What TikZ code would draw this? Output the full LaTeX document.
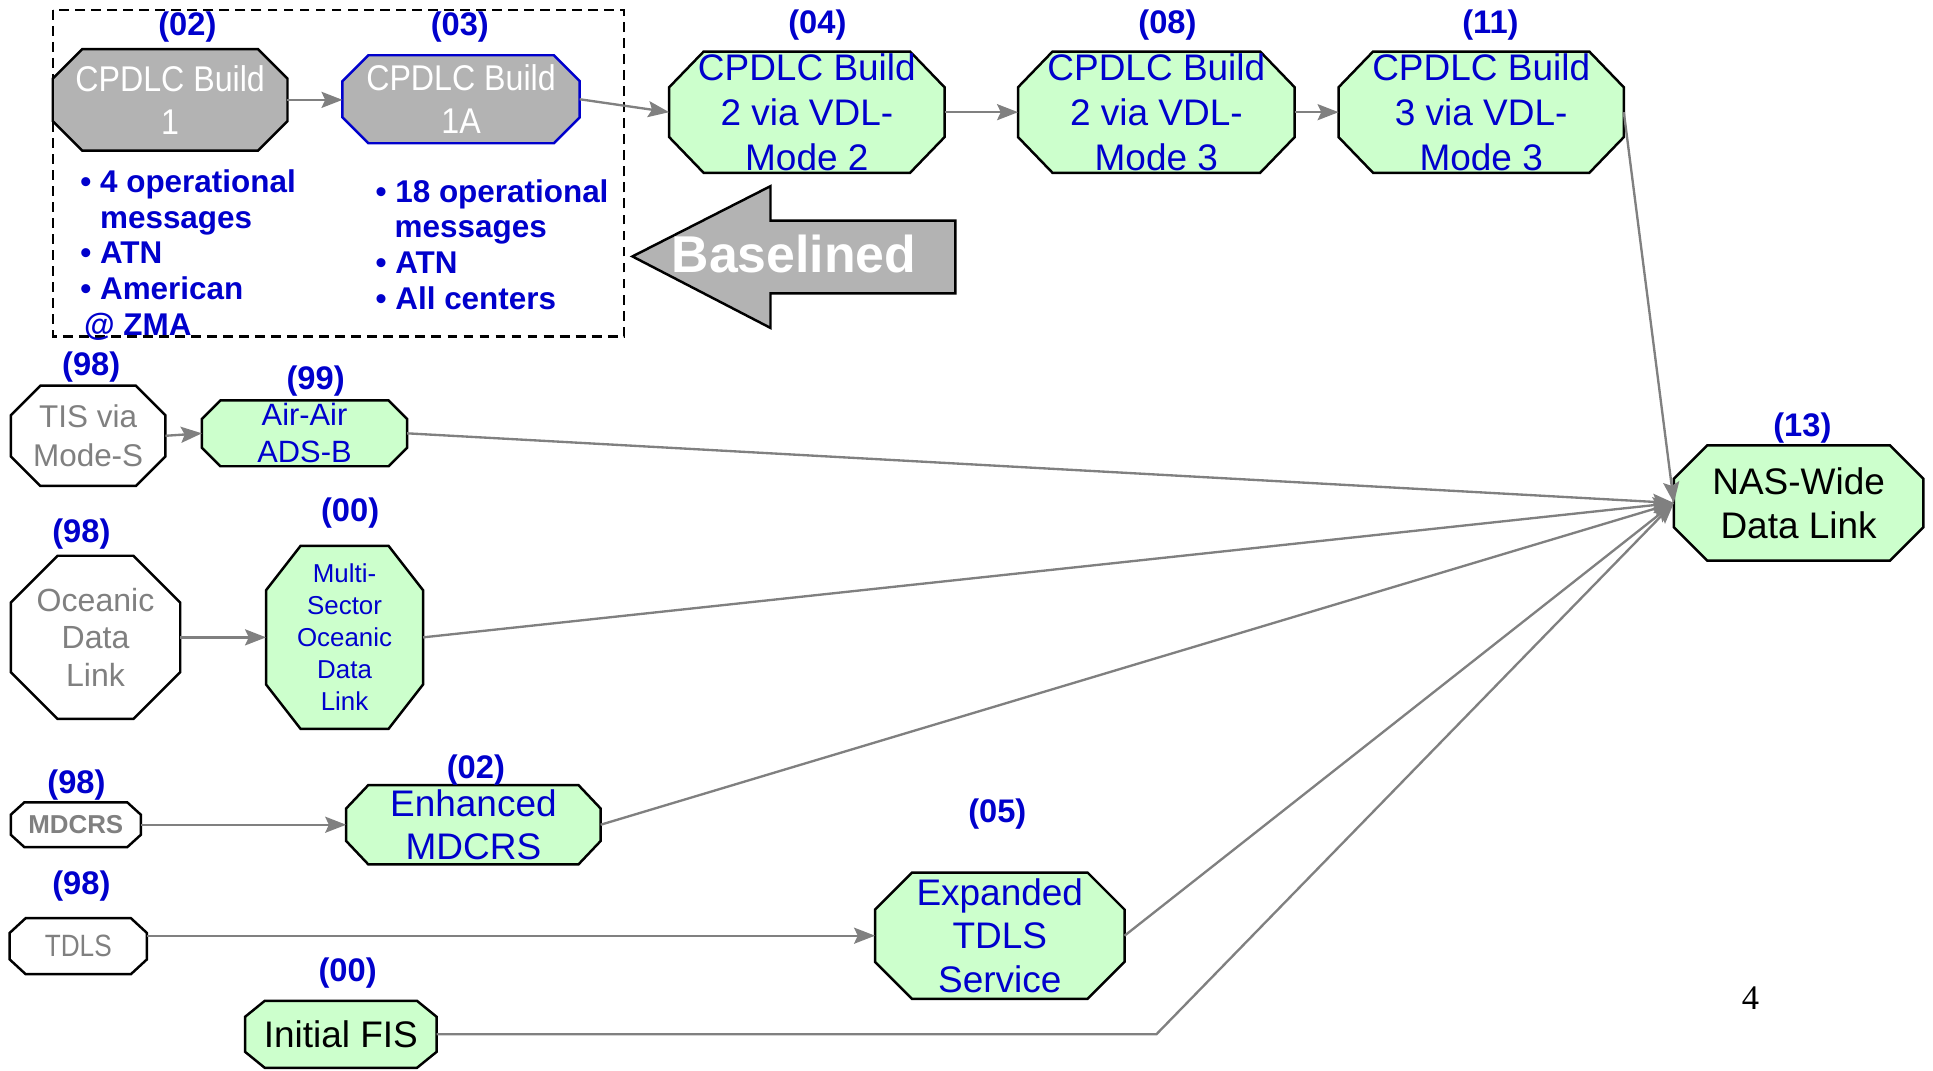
\documentclass[tikz,border=0pt]{standalone}
\usepackage{fontspec}
\setmainfont{Liberation Sans}
\newfontfamily\narrowfont[FakeStretch=0.9]{Liberation Sans}
\newfontfamily\tdlsfont[FakeStretch=0.85]{Liberation Sans}
\newfontfamily\pagefont{Liberation Serif}
\usetikzlibrary{calc,backgrounds,arrows.meta}
\definecolor{nodegreen}{HTML}{CCFFCC}
\definecolor{nodegray}{HTML}{B3B3B3}
\definecolor{txtblue}{HTML}{0000CC}
\definecolor{txtgray}{HTML}{808080}
\definecolor{linegray}{HTML}{808080}
\newcommand\myoct[4]{\draw[#4] ($(#1.north west)+(#2,0pt)$) -- ($(#1.north east)+(-#2,0pt)$) -- ($(#1.north east)+(0pt,-#3)$) -- ($(#1.south east)+(0pt,#3)$) -- ($(#1.south east)+(-#2,0pt)$) -- ($(#1.south west)+(#2,0pt)$) -- ($(#1.south west)+(0pt,#3)$) -- ($(#1.north west)+(0pt,-#3)$) -- cycle;}
\tikzset{
  oct/.style={inner sep=0pt, align=center},
  greenfill/.style={fill=nodegreen, draw=black, line width=2pt},
  grayfill/.style={fill=nodegray, draw=black, line width=2pt},
  whitefill/.style={fill=white, draw=black, line width=2pt},
  lbl/.style={font=\bfseries\fontsize{26.5}{30}\selectfont, text=txtblue, inner sep=0pt},
  bul/.style={font=\bfseries\fontsize{25.5}{29}\selectfont, text=txtblue, inner sep=0pt, anchor=base west},
  conn/.style={draw=linegray, line width=1.9pt, -{Stealth[length=17pt,width=13pt,inset=3pt]}},
  bigtxt/.style={font=\fontsize{30}{36.5}\selectfont, text=txtblue},
}
\begin{document}
\begin{tikzpicture}[x=1pt,y=-1pt]
\useasboundingbox (0,0) rectangle (1568,868);
% ---- nodes (text) ----
\node[oct, minimum width=190pt, minimum height=82pt, text=white, font=\narrowfont\fontsize{29}{35}\selectfont] (b1) at (138,81) {CPDLC Build\\1};
\node[oct, minimum width=192pt, minimum height=71pt, text=white, font=\narrowfont\fontsize{29}{35}\selectfont] (b1a) at (374,80.5) {CPDLC Build\\1A};
\node[oct, bigtxt, minimum width=223pt, minimum height=98pt] (b2m2) at (654.5,91) {CPDLC Build\\2 via VDL-\\Mode 2};
\node[oct, bigtxt, minimum width=224pt, minimum height=98pt] (b2m3) at (938,91) {CPDLC Build\\2 via VDL-\\Mode 3};
\node[oct, bigtxt, minimum width=231pt, minimum height=98pt] (b3m3) at (1201.5,91) {CPDLC Build\\3 via VDL-\\Mode 3};
\node[oct, minimum width=202pt, minimum height=93pt, font=\fontsize{30}{35.5}\selectfont] (nas) at (1459,408) {NAS-Wide\\Data Link};
\node[oct, minimum width=125pt, minimum height=81pt, text=txtgray, font=\fontsize{25.5}{31}\selectfont] (tis) at (71.5,353.5) {TIS via\\Mode-S};
\node[oct, minimum width=166pt, minimum height=53pt, text=txtblue, font=\fontsize{25}{30}\selectfont] (air) at (247,351.5) {Air-Air\\ADS-B};
\node[oct, minimum width=137pt, minimum height=132pt, text=txtgray, font=\fontsize{26}{30.5}\selectfont] (ocean) at (77.5,517) {Oceanic\\Data\\Link};
\node[oct, minimum width=127pt, minimum height=148pt, text=txtblue, font=\fontsize{21}{26}\selectfont] (multi) at (279.5,517) {Multi-\\Sector\\Oceanic\\Data\\Link};
\node[oct, minimum width=105pt, minimum height=36pt, text=txtgray, font=\bfseries\fontsize{21}{25}\selectfont] (mdcrs) at (61.5,669) {MDCRS};
\node[oct, minimum width=206pt, minimum height=64pt, text=txtblue, font=\fontsize{30}{35}\selectfont] (enh) at (384,669) {Enhanced\\MDCRS};
\node[oct, minimum width=111pt, minimum height=45pt, text=txtgray, font=\tdlsfont\fontsize{25}{30}\selectfont] (tdls) at (63.5,767.5) {TDLS};
\node[oct, minimum width=202pt, minimum height=102pt, text=txtblue, font=\fontsize{30}{35.5}\selectfont] (exp) at (811,759) {Expanded\\TDLS\\Service};
\node[oct, minimum width=155pt, minimum height=54pt, font=\fontsize{30}{36}\selectfont] (fis) at (276.5,839) {Initial FIS};
% ---- octagon outlines ----
\begin{scope}[on background layer]
\draw[black, line width=2pt, dash pattern=on 8pt off 5pt] (43,8) rectangle (506,273);
\myoct{b1}{24pt}{24pt}{grayfill}
\myoct{b1a}{21pt}{21pt}{grayfill, draw=txtblue}
\myoct{b2m2}{28pt}{29pt}{greenfill}
\myoct{b2m3}{28pt}{29pt}{greenfill}
\myoct{b3m3}{28pt}{29pt}{greenfill}
\myoct{nas}{27pt}{27pt}{greenfill}
\myoct{tis}{24pt}{24pt}{whitefill}
\myoct{air}{15pt}{15pt}{greenfill}
\myoct{ocean}{38pt}{38pt}{whitefill}
\myoct{multi}{28pt}{36pt}{greenfill}
\myoct{mdcrs}{11pt}{10pt}{whitefill}
\myoct{enh}{18pt}{19pt}{greenfill}
\myoct{tdls}{13pt}{12pt}{whitefill}
\myoct{exp}{30pt}{30pt}{greenfill}
\myoct{fis}{16pt}{13pt}{greenfill}
\end{scope}
% ---- labels ----
\node[lbl] (lb02) at (152,22) {(02)};
\node[lbl] (lb03) at (373,22) {(03)};
\node[lbl] (lb04) at (663,20) {(04)};
\node[lbl] (lb08) at (947,20) {(08)};
\node[lbl] (lb11) at (1209,20) {(11)};
\node[lbl] (lb13) at (1462,347) {(13)};
\node[lbl] (lb98a) at (74,298) {(98)};
\node[lbl] (lb99) at (256,309) {(99)};
\node[lbl] (lb98b) at (66,433) {(98)};
\node[lbl] (lb00a) at (284,416) {(00)};
\node[lbl] (lb98c) at (62,637) {(98)};
\node[lbl] (lb02b) at (386,625) {(02)};
\node[lbl] (lb98d) at (66,719) {(98)};
\node[lbl] (lb05) at (809,660) {(05)};
\node[lbl] (lb00b) at (282,789) {(00)};
% ---- bullet texts ----
\node[bul] (l1) at (65,156) {• 4 operational};
\node[bul] (l2) at (81,185) {messages};
\node[bul] (l3) at (65,214) {• ATN};
\node[bul] (l4) at (65,243) {• American};
\node[bul] (l5) at (68,272) {@ ZMA};
\node[bul] (r1) at (304.5,164) {• 18 operational};
\node[bul] (r2) at (320,193) {messages};
\node[bul] (r3) at (304.5,222) {• ATN};
\node[bul] (r4) at (304.5,251) {• All centers};
% ---- Baselined arrow ----
\draw[fill=nodegray, draw=black, line width=2pt] (513,208) -- (625,151) -- (625,179) -- (775,179) -- (775,238) -- (625,238) -- (625,266) -- cycle;
\node[font=\bfseries\fontsize{42}{50}\selectfont, text=white, inner sep=0pt] (basel) at (644,206) {Baselined};
% ---- page number ----
\node[font=\pagefont\fontsize{28}{30}\selectfont, inner sep=0pt] (pnum) at (1420,810) {4};
% ---- connectors ----
\coordinate (bend) at (938,839);
\draw[conn] (b1.east) -- (b1a.west |- b1.east);
\draw[conn] (b1a.east) -- (b2m2.west);
\draw[conn] (b2m2.east) -- (b2m3.west);
\draw[conn] (b2m3.east) -- (b3m3.west);
\draw[conn] (tis.east) -- (air.west);
\draw[conn] (ocean.east) -- (multi.west);
\draw[conn] (mdcrs.east) -- (enh.west);
\draw[conn] (tdls.east |- exp.west) -- (exp.west);
\draw[conn] (b3m3.east) -- (nas.west);
\draw[conn] (air.east) -- (nas.west);
\draw[conn] (multi.east) -- (nas.west);
\draw[conn] (enh.east) -- (nas.west);
\draw[conn] (exp.east) -- (nas.west);
\draw[conn] (fis.east) -- (bend) -- (nas.west);
\end{tikzpicture}
\end{document}
